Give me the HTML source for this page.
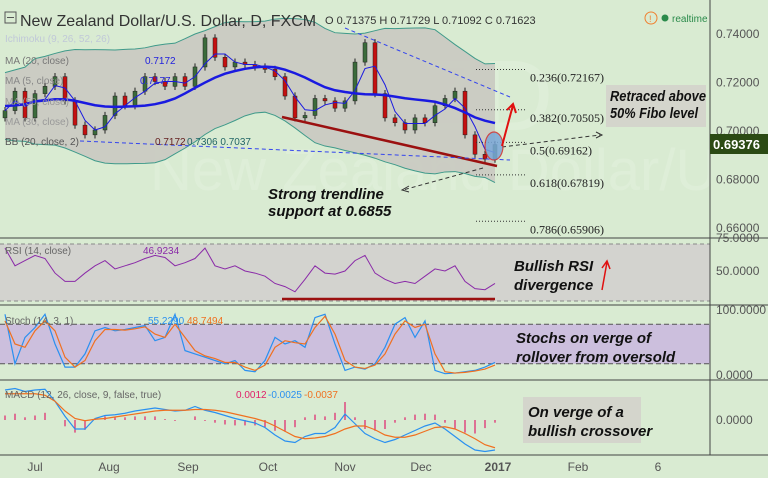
<!DOCTYPE html>
<html><head><meta charset="utf-8"><style>
body{margin:0;background:#d9ebd2;}
svg{display:block;font-family:"Liberation Sans",sans-serif;}
</style></head><body>
<svg id="c" width="768" height="478" viewBox="0 0 768 478">
<rect x="0" y="0" width="768" height="478" fill="#d9ebd2"/>
<g id="wm">
<text x="150" y="190" font-size="58" fill="#deeed8">New Zealand Dollar/U.S. Dollar</text>
<text x="420" y="130" font-size="100" fill="#deeed8">ZD</text>
</g>
<g id="price"></g>
<g id="rsi"></g>
<g id="stoch"></g>
<g id="macd"></g>
<g id="axes"></g>
</svg>
<script>
const closes=[0.708,0.716,0.705,0.715,0.718,0.722,0.712,0.702,0.698,0.700,0.706,0.714,0.710,0.716,0.722,0.720,0.718,0.722,0.718,0.726,0.738,0.730,0.726,0.728,0.727,0.726,0.725,0.722,0.714,0.705,0.706,0.713,0.712,0.709,0.712,0.728,0.736,0.715,0.705,0.703,0.700,0.705,0.703,0.710,0.713,0.716,0.698,0.690,0.688,0.694];
const rsiVals=[72,55,60,65,62,48,40,40,48,55,60,52,55,58,62,65,63,55,58,62,72,55,52,55,50,48,45,38,35,30,42,55,48,47,50,60,65,48,42,38,40,38,45,52,50,55,40,33,32,38];
const stochK=[95,20,60,75,95,50,15,15,35,70,75,70,72,75,78,55,60,95,40,35,30,25,20,25,10,8,25,60,50,55,45,90,95,50,10,15,12,20,45,80,90,60,85,10,5,6,8,10,15,22];
const stochD=[85,50,45,70,85,70,30,15,25,55,72,72,71,73,76,65,60,80,60,40,32,28,22,22,15,10,18,45,55,52,50,75,92,65,25,15,13,18,35,65,85,75,80,35,8,6,7,9,12,18];
const macdVals=[0.0040,0.0042,0.0038,0.0040,0.0041,0.0025,0.0005,-0.0012,-0.0012,0.0002,0.0006,0.0007,0.0009,0.0012,0.0014,0.0016,0.0014,0.0012,0.0013,0.0018,0.0013,0.0010,0.0006,0.0002,-0.0001,-0.0004,-0.0010,-0.0020,-0.0028,-0.0030,-0.0022,-0.0018,-0.0018,-0.0010,0.0008,-0.0005,-0.0018,-0.0025,-0.0030,-0.0026,-0.0020,-0.0014,-0.0008,-0.0004,-0.0012,-0.0022,-0.0032,-0.0040,-0.0042,-0.0040];
const signalVals=[0.0035,0.0035,0.0035,0.0035,0.0033,0.0025,0.0012,0.0002,-0.0001,0.0001,0.0002,0.0004,0.0006,0.0008,0.0010,0.0012,0.0013,0.0013,0.0013,0.0014,0.0014,0.0013,0.0011,0.0008,0.0005,0.0002,-0.0002,-0.0008,-0.0015,-0.0022,-0.0025,-0.0024,-0.0022,-0.0018,-0.0012,-0.0008,-0.0008,-0.0013,-0.0020,-0.0023,-0.0023,-0.0020,-0.0015,-0.0010,-0.0009,-0.0012,-0.0018,-0.0025,-0.0033,-0.0037];
const priceTicks=["0.74000","0.72000","0.70000","0.68000","0.66000"];
const priceTickVals=[0.74,0.72,0.70,0.68,0.66];
const monthLabels=["Jul","Aug","Sep","Oct","Nov","Dec","2017","Feb","6"];
const monthIdx=[3.2,10.6,18.5,26.5,34.2,41.8,49.5,57.5,65.5];
const fibLabels=["0.236(0.72167)","0.382(0.70505)","0.5(0.69162)","0.618(0.67819)","0.786(0.65906)"];
const fibVals=[0.72167,0.70505,0.69162,0.67819,0.65906];

const NS="http://www.w3.org/2000/svg";
function mk(p,t,a,txt){const e=document.createElementNS(NS,t);for(const k in a)e.setAttribute(k,a[k]);if(txt!==undefined)e.textContent=txt;p.appendChild(e);return e;}
const X=i=>5+i*10;
const PY=v=>130-(v-0.70)/0.02*48.5;
const RY=v=>271-(v-50)*1.04;
const SY=v=>377-v*0.66;
const MY=v=>420-v*7500;
const G=id=>document.getElementById(id);
const plotW=710;

const pg=G('price');
const n=closes.length,per=10;let ma=[],up=[],lo=[];
for(let i=0;i<n;i++){const s=closes.slice(Math.max(0,i-per+1),i+1);const m=s.reduce((a,b)=>a+b,0)/s.length;const sd=Math.sqrt(s.reduce((a,b)=>a+(b-m)**2,0)/s.length);ma.push(m);up.push(m+2*sd+0.008);lo.push(m-2*sd-0.008);}
const sm=a=>a.map((v,i)=>{const s=a.slice(Math.max(0,i-2),i+3);return s.reduce((p,q)=>p+q,0)/s.length;});
up=sm(up);lo=sm(lo);const ma2=sm(ma);
let band='M'+up.map((v,i)=>X(i)+','+PY(v)).join('L')+'L'+lo.map((v,i)=>X(i)+','+PY(v)).reverse().join('L')+'Z';
let b=mk(pg,'path',{d:band,fill:'#c9c9c1',opacity:0.9});

let ub=mk(pg,'polyline',{points:up.map((v,i)=>X(i)+','+PY(v)).join(' '),fill:'none',stroke:'#3f9a8a','stroke-width':1});

let lb=mk(pg,'polyline',{points:lo.map((v,i)=>X(i)+','+PY(v)).join(' '),fill:'none',stroke:'#3f9a8a','stroke-width':1});

for(let i=0;i<n;i++){const o=i?closes[i-1]:closes[0]-0.003,c=closes[i];const hi=Math.max(o,c)+0.0015,lw=Math.min(o,c)-0.0015;
 const g=mk(pg,'g',{});
 mk(g,'line',{x1:X(i),x2:X(i),y1:PY(hi),y2:PY(lw),stroke:'#222','stroke-width':1});
 mk(g,'rect',{x:X(i)-2,y:Math.min(PY(o),PY(c)),width:4,height:Math.max(1,Math.abs(PY(o)-PY(c))),fill:c>=o?'#3b6b3b':'#c41010',stroke:'#222','stroke-width':0.5});}
let m5=mk(pg,'polyline',{points:closes.map((v,i)=>{const s=closes.slice(Math.max(0,i-2),i+1);return X(i)+','+PY(s.reduce((a,b)=>a+b)/s.length)}).join(' '),fill:'none',stroke:'#1a1ae0','stroke-width':1});

let m20=mk(pg,'polyline',{points:ma2.map((v,i)=>X(i)+','+PY(v)).join(' '),fill:'none',stroke:'#1a1ae0','stroke-width':2.5});

fibVals.forEach((v,i)=>{const l=mk(pg,'line',{x1:476,x2:526,y1:PY(v)-8,y2:PY(v)-8,stroke:'#333','stroke-dasharray':'1,2'});
 
 const t=mk(pg,'text',{x:530,y:PY(v)+4,'font-size':12,fill:'#222','font-family':'Liberation Serif'},fibLabels[i]);
 });
mk(pg,'line',{x1:282,y1:117,x2:497,y2:166,stroke:'#9b1010','stroke-width':2.5});
mk(pg,'line',{x1:345,y1:28,x2:510,y2:97,stroke:'#3344ee','stroke-dasharray':'4,3'});
mk(pg,'line',{x1:80,y1:141,x2:510,y2:160,stroke:'#3344ee','stroke-dasharray':'4,3'});
mk(pg,'line',{x1:502,y1:147,x2:600,y2:135,stroke:'#333','stroke-dasharray':'4,3'});
mk(pg,'path',{d:'M596,132L602,135L596,138',fill:'none',stroke:'#333'});
mk(pg,'line',{x1:483,y1:168,x2:403,y2:190,stroke:'#333','stroke-dasharray':'4,3'});
mk(pg,'path',{d:'M409,186L402,190L409,192',fill:'none',stroke:'#333'});
mk(pg,'ellipse',{cx:494,cy:146,rx:9,ry:14,fill:'#7aa8d8',stroke:'#d03030','stroke-width':1.2,opacity:0.85});
mk(pg,'path',{d:'M502,146L513,105M507,110L513,104L516,113',fill:'none',stroke:'#e01010','stroke-width':2});
const h=mk(pg,'text',{x:20,y:26,'font-size':16,fill:'#333'},'New Zealand Dollar/U.S. Dollar, D, FXCM');
mk(pg,'rect',{x:5,y:12,width:11,height:11,fill:'none',stroke:'#555'});mk(pg,'line',{x1:7,x2:14,y1:17.5,y2:17.5,stroke:'#555'});
mk(pg,'text',{x:325,y:24,'font-size':11,fill:'#333'},'O 0.71375 H 0.71729 L 0.71092 C 0.71623');
mk(pg,'circle',{cx:651,cy:18,r:6,fill:'none',stroke:'#f08030'});mk(pg,'text',{x:649,y:22,'font-size':9,fill:'#f08030'},'!');
mk(pg,'circle',{cx:665,cy:18,r:3.5,fill:'#2a8a4a'});mk(pg,'text',{x:672,y:22,'font-size':10,fill:'#2a8a4a'},'realtime');
[['Ichimoku (9, 26, 52, 26)',42,'#c0c8d8'],['MA (20, close)',64,'#777'],['MA (5, close)',84,'#888'],['MA (50, close)',105,'#999'],['MA (30, close)',125,'#999'],['BB (20, close, 2)',145,'#555']].forEach(a=>mk(pg,'text',{x:5,y:a[1],'font-size':10,fill:a[2]},a[0]));
mk(pg,'text',{x:145,y:64,'font-size':10,fill:'#2222dd'},'0.7172');mk(pg,'text',{x:140,y:84,'font-size':10,fill:'#2222dd'},'0.7177');
mk(pg,'text',{x:155,y:145,'font-size':10,fill:'#662222'},'0.7172');mk(pg,'text',{x:187,y:145,'font-size':10,fill:'#226666'},'0.7306 0.7037');
function note(x,y,lines,bg,tl){if(bg)mk(pg,'rect',{x:x-4,y:y-16,width:bg,height:lines.length*17+8,fill:'#d3d3cb',opacity:0.9});lines.forEach((l,i)=>{const a={x:x,y:y+i*17,'font-size':15,'font-style':'italic','font-weight':'bold',fill:'#111'};if(tl){a.textLength=tl[i];a.lengthAdjust='spacingAndGlyphs';}const t=mk(pg,'text',a,l);});}
note(268,199,['Strong trendline','support at 0.6855']);
note(610,101,['Retraced above','50% Fibo level'],100,[96,88]);
const rg=G('rsi');
mk(rg,'rect',{x:0,y:244,width:plotW,height:57,fill:'#d3d3cf'});
mk(rg,'line',{x1:0,x2:plotW,y1:244,y2:244,stroke:'#888','stroke-dasharray':'4,3'});
mk(rg,'line',{x1:0,x2:plotW,y1:301,y2:301,stroke:'#888','stroke-dasharray':'4,3'});
let rl=mk(rg,'polyline',{points:rsiVals.map((v,i)=>X(i)+','+RY(v)).join(' '),fill:'none',stroke:'#8a2aa8','stroke-width':1});

mk(rg,'line',{x1:282,x2:495,y1:299,y2:299,stroke:'#9b1010','stroke-width':2.5});
mk(rg,'text',{x:5,y:254,'font-size':10,fill:'#666'},'RSI (14, close)');mk(rg,'text',{x:143,y:254,'font-size':10,fill:'#8a2aa8'},'46.9234');
[['Bullish RSI',271],['divergence',290]].forEach(a=>mk(rg,'text',{x:514,y:a[1],'font-size':15,'font-style':'italic','font-weight':'bold',fill:'#111'},a[0]));
mk(rg,'path',{d:'M602,290L607,262M602,268L607,261L610,269',fill:'none',stroke:'#e01010','stroke-width':1.5});
const sg=G('stoch');
mk(sg,'rect',{x:0,y:SY(80),width:plotW,height:SY(20)-SY(80),fill:'#ccbfdd'});
mk(sg,'line',{x1:0,x2:plotW,y1:SY(80),y2:SY(80),stroke:'#555','stroke-dasharray':'5,3'});
mk(sg,'line',{x1:0,x2:plotW,y1:SY(20),y2:SY(20),stroke:'#555','stroke-dasharray':'5,3'});
let sk=mk(sg,'polyline',{points:stochK.map((v,i)=>X(i)+','+SY(v)).join(' '),fill:'none',stroke:'#2a90f0','stroke-width':1.2});

let sd=mk(sg,'polyline',{points:stochD.map((v,i)=>X(i)+','+SY(v)).join(' '),fill:'none',stroke:'#f07020','stroke-width':1.2});

mk(sg,'text',{x:5,y:324,'font-size':10,fill:'#666'},'Stoch (14, 3, 1)');mk(sg,'text',{x:148,y:324,'font-size':10,fill:'#2a90f0'},'55.2290');mk(sg,'text',{x:187,y:324,'font-size':10,fill:'#f07020'},'48.7494');
[['Stochs on verge of',343],['rollover from oversold',362]].forEach(a=>mk(sg,'text',{x:516,y:a[1],'font-size':15,'font-style':'italic','font-weight':'bold',fill:'#111'},a[0]));
const mg=G('macd');
macdVals.forEach((v,i)=>{const hv=v-signalVals[i];const l=mk(mg,'line',{x1:X(i),x2:X(i),y1:MY(0),y2:MY(hv*1.2),stroke:'#e0206a','stroke-width':1.2});});
let ml=mk(mg,'polyline',{points:macdVals.map((v,i)=>X(i)+','+MY(v)).join(' '),fill:'none',stroke:'#2a90f0','stroke-width':1.2});

let sl=mk(mg,'polyline',{points:signalVals.map((v,i)=>X(i)+','+MY(v)).join(' '),fill:'none',stroke:'#f07020','stroke-width':1.2});

mk(mg,'text',{x:5,y:398,'font-size':10,fill:'#666'},'MACD (12, 26, close, 9, false, true)');
mk(mg,'text',{x:236,y:398,'font-size':10,fill:'#e0206a'},'0.0012');mk(mg,'text',{x:268,y:398,'font-size':10,fill:'#2a90f0'},'-0.0025');mk(mg,'text',{x:304,y:398,'font-size':10,fill:'#f07020'},'-0.0037');
mk(mg,'rect',{x:523,y:397,width:118,height:46,fill:'#d3d3cb',opacity:0.9});
[['On verge of a',417],['bullish crossover',436]].forEach(a=>mk(mg,'text',{x:528,y:a[1],'font-size':15,'font-style':'italic','font-weight':'bold',fill:'#111'},a[0]));
const ag=G('axes');
mk(ag,'rect',{x:711,y:0,width:57,height:455,fill:'#d9ebd2'});
mk(ag,'line',{x1:plotW,x2:plotW,y1:0,y2:455,stroke:'#444'});
[238,305,380,455].forEach(y=>mk(ag,'line',{x1:0,x2:768,y1:y,y2:y,stroke:'#444'}));
priceTickVals.forEach((v,i)=>{const t=mk(ag,'text',{x:716,y:PY(v)+5,'font-size':12,fill:'#555'},priceTicks[i]);});
mk(ag,'rect',{x:710,y:134,width:58,height:20,fill:'#2b4a14'});
mk(ag,'text',{x:713,y:149,'font-size':13,'font-weight':'bold',fill:'#fff'},'0.69376');
[['75.0000',242],['50.0000',275],['100.0000',314],['0.0000',379],['0.0000',424]].forEach(a=>mk(ag,'text',{x:716,y:a[1],'font-size':12,fill:'#555'},a[0]));
monthLabels.forEach((m,i)=>{const t=mk(ag,'text',{x:X(monthIdx[i])-2,y:471,'font-size':12,fill:'#555','text-anchor':'middle','font-weight':m==='2017'?'bold':'normal'},m);});
</script>
</body></html>
